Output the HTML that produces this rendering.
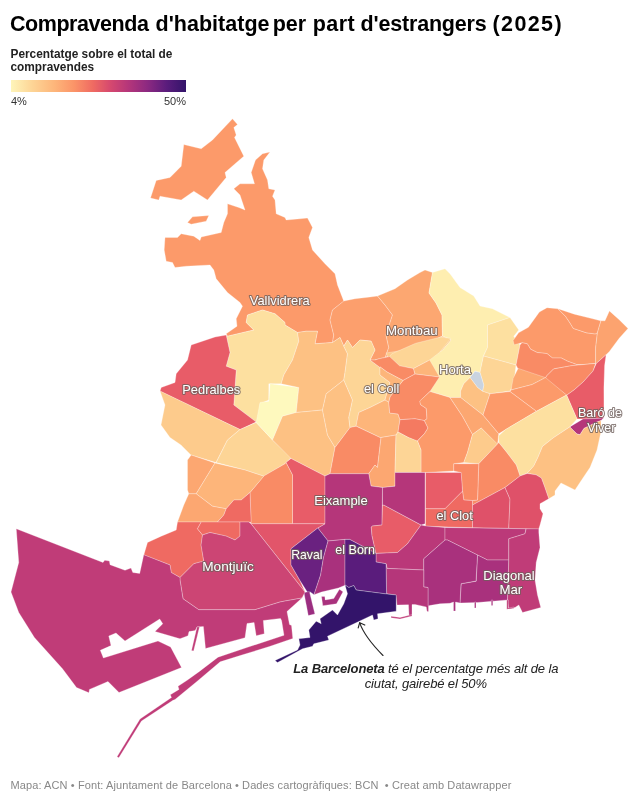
<!DOCTYPE html>
<html lang="ca">
<head>
<meta charset="utf-8">
<title>Compravenda d'habitatge per part d'estrangers (2025)</title>
<style>
html,body{margin:0;padding:0;background:#fff;}
body{width:640px;height:803px;position:relative;overflow:hidden;font-family:"Liberation Sans",sans-serif;color:#181818;}
h1{position:absolute;left:10.5px;top:9.5px;margin:0;font-size:21.5px;line-height:28px;font-weight:bold;color:#000;white-space:nowrap;letter-spacing:0.02px;}
h1 span{position:absolute;top:0;}
.lt{position:absolute;left:10.5px;top:47.5px;font-size:11.85px;line-height:13.8px;font-weight:bold;color:#222;width:190px;}
.bar{position:absolute;left:10.6px;top:79.7px;width:175.4px;height:12.6px;background:linear-gradient(90deg,#FEF5BA 0%,#FDD596 12%,#FDB57A 25%,#FB9468 36%,#EF6A62 47%,#D5486F 57%,#B5367A 67%,#8C2981 78%,#5A1C7C 89%,#33146A 100%);}
.l1,.l2{position:absolute;top:95px;font-size:11px;line-height:13px;color:#333;}
.l1{left:11px;}
.l2{left:136px;width:50px;text-align:right;}
svg{position:absolute;left:0;top:0;}
.foot{position:absolute;left:10.5px;top:779px;font-size:11px;line-height:13px;color:#888;white-space:nowrap;letter-spacing:0.1px;}
.ann{position:absolute;left:275.75px;top:660.5px;width:300px;text-align:center;font-size:13px;line-height:15.7px;letter-spacing:-0.13px;font-style:italic;color:#222;white-space:nowrap;}
.ann b{font-weight:bold;}
.lab{font-family:"Liberation Sans",sans-serif;font-size:13px;fill:#fff;stroke:#6e5f5b;stroke-opacity:0.8;stroke-width:2.1px;stroke-linejoin:round;paint-order:stroke fill;text-anchor:middle;}
</style>
</head>
<body>
<h1><span style="left:-0.5px;letter-spacing:-0.45px">Compravenda</span> <span style="left:145.1px;letter-spacing:0.01px">d'habitatge</span> <span style="left:262.2px;letter-spacing:0px">per</span> <span style="left:302.2px;letter-spacing:0.47px">part</span> <span style="left:350.1px;letter-spacing:-0.19px">d'estrangers</span> <span style="left:482.0px;letter-spacing:1.38px">(2025)</span></h1>
<div class="lt">Percentatge sobre el total de compravendes</div>
<div class="bar"></div>
<div class="l1">4%</div><div class="l2">50%</div>
<svg width="640" height="803" viewBox="0 0 640 803">
<g stroke="#fff" stroke-width="0.55" stroke-linejoin="round" stroke-opacity="0.5">
<path d="M232.5,118.8L237.5,124.5L233.8,127.5L236.2,135L234.5,137.5L243.8,156.2L225,172.5L226.2,177.5L207.5,200L193.8,191.2L181.2,200L160,196.2L158.8,200L150.5,198L156.2,180.5L170,177.5L181.2,166.2L183.8,144.5L201.2,148.8L212.5,140Z" fill="#FC9A6A"/>
<path d="M187.5,222.5L192.5,216.8L208.8,215.5L206.2,221.2L191.2,224.2Z" fill="#FC9A6A"/>
<path d="M166.2,237.5L177.5,237.5L181.2,233.8L193.8,236.2L200,240.5L201.2,237L221.2,232.5L223.8,222.5L227.5,213.8L227.5,203.8L238.8,207.5L245,210L240,195L233.8,188.8L240,183.8L254.5,183.8L251.2,172.5L255.5,160L262.5,153.8L270,152L263.8,160L262.5,168.8L267.5,180L268.8,188.8L275,190L272.5,196.2L275,200L276.2,213.8L285,217.5L286.2,220L300,218.8L307.5,218L312.5,227.5L308.8,237.5L312.5,250L325,263.8L335,273.8L337.5,285L343.8,301.2L332.5,310L330,320L333.75,335L332.5,342.5L315,343.8L317.5,331.2L306.2,331.2L297.5,332.5L285,325L285,322.5L275,313.8L262.5,310L247.5,315L246.2,322.5L253.8,330L227.5,336.2L226.2,333.8L237,326.2L236.2,318.8L242.5,306.2L240,302.5L227.5,292.5L216.2,278.8L213.8,270L210,265L186.2,266.2L175,267.5L172.5,262.5L166.2,261.2L164.2,250L165,237.5Z" fill="#FC9A6A"/>
<path d="M343.75,301L355,298.75L370,297L377.5,296L385,305L392.5,315L390,322.5L386,335L388.75,347.5L385,358L375,360L370,360L375,350L371,341L360,340L352.5,347.5L347.5,340L343.75,346L340,337.5L332.5,342.5L333.75,335L330,320L332.5,310Z" fill="#FC9F6D"/>
<path d="M377.5,296L395,288.75L407.5,280L420,272.5L425,270L432.5,272.5L429,293L436,303L442,315L442.5,336L420,347.5L375,360L385,358L388.75,347.5L386,335L390,322.5L392.5,315L385,305Z" fill="#FCA771"/>
<path d="M247.5,315L262.5,310L275,313.8L285,322.5L285,325L297.5,332.5L298.8,341.2L292.5,360L283.8,375L281.2,383.8L268.8,383.8L268.8,400L260,403.8L259.5,423.8L256.2,422L233.8,405L236.2,370L226.2,366.2L230,352.5L226.2,335L227.5,336.2L253.8,330L246.2,322.5Z" fill="#FDE0A0"/>
<path d="M226.2,335L215,337L191.2,345L187.5,360L176.2,373.8L175,382.5L161.2,387.5L160,391.2L240,429.5L256.2,422L233.8,405L236.2,370L226.2,366.2L230,352.5Z" fill="#E85C68"/>
<path d="M160,391L240,429.5L227.5,440L216,462.5L191,455L181,445L170,437.5L161,425L165,405Z" fill="#FDCB8C"/>
<path d="M240,429.5L256.2,422.5L272.5,440L291.2,457.5L285,463.8L263.8,476.2L245,470L216.2,462.5L227.5,440Z" fill="#FDD596"/>
<path d="M270,383.8L298.8,387.5L296.2,412.5L282.5,416.2L272.5,440L256.2,422.5L260,402.5L268.8,401.2Z" fill="#FEF9BE"/>
<path d="M298.8,341.2L297.5,332.5L306.2,331.2L317.5,331.2L315,343.8L332.5,342.5L340,337.5L343.8,346.2L347.5,353.8L345,372.5L343.8,380L326.2,393.8L322.5,410L296.2,412.5L298.8,387.5L281.2,383.8L283.8,375L292.5,360Z" fill="#FDC183"/>
<path d="M282.5,416.2L296.2,412.5L322.5,410L327.5,435L335,447.5L330,473.75L325,476L291,458.5L272.5,440Z" fill="#FDC183"/>
<path d="M326.2,393.8L343.8,380L352.5,400L348.8,417.5L350,427.5L335,447.5L327.5,435L322.5,410Z" fill="#FDC183"/>
<path d="M343.8,346.2L347.5,340L352.5,347.5L360,340L371.2,341.2L375,350L370,360L380,367.5L380,375L390,382.5L385,400L370,407.5L358.8,412.5L356.2,426.2L350,427.5L348.8,417.5L352.5,400L343.8,380L345,372.5L347.5,353.8Z" fill="#FDD596"/>
<path d="M358.75,412.5L370,407.5L385,400L388.75,402L389.7,413L398,414L400,419.7L398,432L396,435L381,437.5L380,437.5L356,426Z" fill="#FDB57A"/>
<path d="M350,427.5L356.2,426.2L380,437.5L381,437.5L377.5,467.5L375,465L368.75,473.75L330,473.75L335,447.5Z" fill="#F98B65"/>
<path d="M381,437.5L396,435L395,472.5L395,486L383.75,487.5L371,486L368.75,473.75L375,465L377.5,467.5Z" fill="#FCA771"/>
<path d="M432.5,272.5L445,268.75L450,273.75L460,287.5L473.75,296L480,306L492.5,308.75L510,317.5L487.5,325L487.5,347.5L483.5,356L481,367.5L480,372.5L475,371.25L470,377.5L463.75,383.75L460.6,391L460.6,397.5L450,397.5L440,394.4L430,391.6L437.5,377.5L427.5,360L442.5,350L451,340L442.5,336L442,315L436,303L429,293Z" fill="#FEEEB0"/>
<path d="M487.5,325L510,317.5L518.75,330L513.75,336.25L520,345L516,365L483.5,356L487.5,347.5Z" fill="#FDE0A0"/>
<path d="M483.5,356L516,365L513.75,384L510,391L490,393.75L482.5,391.25L483.75,385L480,372.5L481,367.5Z" fill="#FDD596"/>
<path d="M470,377.5L475,371.2L480,372.5L483.8,385L482.5,391.2L477.5,387.5Z" fill="#C9D3E0"/>
<path d="M386,353L420,347.5L442.5,336L451,340L442.5,350L427.5,360L405,367.5L392.5,366Z" fill="#FDCB8C"/>
<path d="M513.1,340.5L518.6,332.8L528.4,327.3L539.4,312L547,307.7L558,308.8L565.6,316.4L570,323L573.3,328.4L586.4,332.8L595.2,333.9L597.4,332.8L595.6,348.1L595.6,363.4L587.5,364.5L576.6,364.5L567.8,361.3L561.3,358L552.5,358L547,353.6L537.2,352.5L530.6,349.2L527.3,343.8L521.9,342.7L514.2,344.8Z" fill="#FC9A6A"/>
<path d="M558,308.8L574.4,314.2L591.9,318.6L600.6,320.8L600.6,321.9L597.4,332.8L595.2,333.9L586.4,332.8L573.3,328.4L570,323L565.6,316.4Z" fill="#FC9A6A"/>
<path d="M600.6,320.8L605,320.8L609.4,310.9L619.2,319.7L628,328.4L619.2,338.3L609.4,351.4L606.1,354.7L596.3,363.4L595.6,363.4L595.6,348.1L597.4,332.8L600.6,321.9Z" fill="#FCA36F"/>
<path d="M521.9,342.7L527.3,343.8L530.6,349.2L537.2,352.5L547,353.6L552.5,358L561.3,358L567.8,361.3L576.6,364.5L587.5,364.5L595.6,363.4L572.2,365.6L553.6,368.9L547,375.5L544.8,378.8L518.6,370L516,365L520,345Z" fill="#F98B65"/>
<path d="M547,375.5L553.6,368.9L572.2,365.6L595.6,363.4L593,371.1L583.1,382L574.4,389.7L566.7,395.2L544.8,378.8Z" fill="#F98B65"/>
<path d="M566.7,395.2L574.4,389.7L583.1,382L593,371.1L596.3,363.4L606.1,354.7L604.6,365.6L603.9,387.5L604,417.5L600,418.3L583,419L577,419Z" fill="#E85C68"/>
<path d="M569.8,426.9L583,419L600,418.3L604,417.5L601,420.6L597,422L584,428.4L580,434.7L576.9,434Z" fill="#B5367A"/>
<path d="M391.7,353.8L415.6,343.3L441,337L450.8,338.4L439.5,352.4L429.7,360L413.5,368.6L399.5,365.8L389.6,356.6Z" fill="#FDD596"/>
<path d="M375,360L379,358.75L389.6,356.6L399.5,365.8L413.5,368.6L415,374L403,380.5L387,372L380.5,367.2L380,367.5L370,360Z" fill="#F98B65"/>
<path d="M413.5,368.6L429.7,360L439.5,377L415,374Z" fill="#FDB57A"/>
<path d="M415,374L439.5,377L430.4,391L420,401L420.6,404.7L426.25,408.4L427,418.75L424.4,420.6L415,418.75L400,419.7L398,414L389.7,413L388.75,402L390,396.7L403,380.5Z" fill="#F98B65"/>
<path d="M380,367.5L380.5,367.2L387,372L403,380.5L390,396.7L388.75,402L385,400L390,382.5L380,375Z" fill="#FDB57A"/>
<path d="M400,419.7L415,418.75L424.4,420.6L428,428L424.4,433.75L417,441.25L408.4,437.5L398,432Z" fill="#F47A61"/>
<path d="M430,391.6L440,394.4L450,397.5L462.5,416.25L472.5,434.4L467.5,452.5L463.75,462.5L453.75,463.75L453.75,471L426,472.5L421,472.5L421,450L417.5,441L424.4,433.75L428,428L424.4,420.6L427,418.75L426.25,408.4L420.6,404.7L419.7,401Z" fill="#FC9A6A"/>
<path d="M396,435L398,432L408.4,437.5L417.5,441L421,450L421,472.5L395,472.5Z" fill="#FDD596"/>
<path d="M460.6,397.5L460.6,391L463.75,383.75L470,377.5L477.5,387.5L482.5,391.25L490,393.75L483,415Z" fill="#FDC183"/>
<path d="M450,397.5L460.6,397.5L483,415L498.75,433.75L497.5,445L481.25,428L472.5,434.4L462.5,416.25Z" fill="#FCA771"/>
<path d="M472.5,434.4L481.25,428L497.5,444L478.75,463.75L463.75,462.5L467.5,452.5Z" fill="#FDCB8C"/>
<path d="M518.1,368.4L545.5,377.6L532,384.6L511,390L513.2,378.3Z" fill="#FCA771"/>
<path d="M545.5,377.6L566.6,395L536.4,411.3L510,391.6L511,390L532,384.6Z" fill="#FC9A6A"/>
<path d="M490,393.75L510,391.6L536.4,411.3L505.5,429.6L498.75,433.75L483,415Z" fill="#FC9A6A"/>
<path d="M566.6,395L577,419L569.8,426.9L553.4,437.8L542.5,446.4L538,457.3L533.75,466L527.2,473.2L520,476L516.25,465L506.4,451.9L498.75,442.5L498.4,436L505.5,429.6L536.4,411.3Z" fill="#FDE0A0"/>
<path d="M542.5,446.4L553.4,437.8L569.8,426.9L576.9,434L580,434.7L584,428.4L597,422L601,420.6L601,431.6L597,450L590,467.5L581.6,480L575,490L561,483L555,491L555,495L548.75,498.75L544.7,487L541.4,478L536,474.8L527.2,473.2L533.75,466L538,457.3Z" fill="#FDC183"/>
<path d="M478.75,463.75L497.5,444L498.75,442.5L506.4,451.9L516.25,465L520,476L505,487.5L472.5,505L472.5,500.5L477.5,500Z" fill="#F98B65"/>
<path d="M453.75,463.75L478.75,463.75L477.5,500L472.5,500.5L463.75,500L462.5,491L461,472.5L453.75,471Z" fill="#F98B65"/>
<path d="M286,462.5L291,458.5L325,476L325,523.75L292.5,523.75L292.5,475Z" fill="#E85C68"/>
<path d="M250,492.5L263.75,476L285,463.75L286,462.5L292.5,475L292.5,523.75L251,523.75Z" fill="#F98B65"/>
<path d="M325,476L330,473.75L368.75,473.75L371,486L382.5,487.5L382,525L372.5,526L371.25,527L372,535.6L376,553.4L349.7,539.4L345,539.4L328,541L317.8,528L325,523.75Z" fill="#B5367A"/>
<path d="M251,523.75L325,523.75L317.8,528L291,548.75L291,565L300,580.6L305,592Z" fill="#E2556A"/>
<path d="M382.5,505.6L383.75,505L421,525L407.5,543.75L397.5,552.5L376,553.4L372,535.6L371.25,527L372.5,526L382,525Z" fill="#E85C68"/>
<path d="M395,472.5L425,472.5L425,523.8L421.2,525L383.8,505L382.5,505L382.5,487.5L395,486.2Z" fill="#B5367A"/>
<path d="M425.5,472.5L461.2,472.5L462.5,491.2L445,508.8L425.5,508.8Z" fill="#E85C68"/>
<path d="M425.5,508.8L445,508.8L462.5,491.2L463.8,500L472.5,500.5L472.5,527.8L425.5,526.2Z" fill="#EF6A62"/>
<path d="M472.5,505L505,487.5L510,499L508.75,528.4L472.5,527.8Z" fill="#DF5169"/>
<path d="M505,487.5L520,476L527.2,473.5L536,474.8L541.4,478L544.7,487L548.75,498.75L540,503.75L540,508.75L543,513.75L540,525L538.75,529L508.75,528.4L510,499Z" fill="#DF5169"/>
<path d="M421,525L426,526L445,527.5L445,540L423.75,558.75L423.75,570L387,568.4L386,563.75L376,562L376,553.4L397.5,552.5L407.5,543.75Z" fill="#BA3879"/>
<path d="M445,527.5L526,528.75L525,533.75L508.75,538.75L508.75,560L487.5,560L477.5,555L447.5,540L445,540Z" fill="#BB3979"/>
<path d="M477.5,555L487.5,560L508.8,560L507.5,600L492.5,601.2L477.5,602.5L460,603L461.2,583.8L476.2,581.2Z" fill="#A9317D"/>
<path d="M445,540L447.5,540L477.5,555L476,581L461,583.75L460,603L455.5,602L455.5,611L453.5,611L453.5,602L450,603.3L440,603.75L429.4,605.6L428.5,606.5L428,605L428,587.5L423.75,587L423.75,558.75Z" fill="#A9317D"/>
<path d="M387,568.4L423.75,570L423.75,587L428,587.5L428,605L428.5,606.5L428.5,611.5L427,611.5L426.25,606.9L415,604.4L412,604.6L412,615.5L409,615.5L408.5,604.8L397,605L396,595L386.6,593.75L386,563.75Z" fill="#B5367A"/>
<path d="M508.8,538.8L525,533.8L526.2,528.8L538.8,528.8L538.8,532.5L540,547.5L536.2,562.5L535,580L537.5,595L540.8,607.5L522.5,612.5L518.8,605L515,607.5L508.8,608.8L507.5,600L508.8,560Z" fill="#C03C78"/>
<path d="M317.8,528L328,541L323.4,558L320.6,575L314,594.7L310.3,592L308.4,593.75L300,580.6L291,565L291,548.75Z" fill="#6A2180"/>
<path d="M303.9,592.6L309.4,591.5L314.9,613.9L308.3,615.6Z" fill="#9B2D80"/>
<path d="M321.5,596.4L322.8,605.7L336.5,603.8L343,591.8L339.4,589.3L333.75,598.6L325.2,599.9L324.8,596.4Z" fill="#A9317D"/>
<path d="M328,541L345,539.4L345,585.3L338.4,588L321.5,592L314,594.7L320.6,575L323.4,558Z" fill="#A9317D"/>
<path d="M345,539.4L349.7,539.4L376,553.4L376,562L386,563.75L386.6,594L385,593.75L356.25,590L353.75,585.5L348.75,587.5L345,585Z" fill="#5A1C7C"/>
<path d="M345,585L348.8,587.5L353.8,585.5L356.2,590L385,593.8L396.2,595L396.2,611.2L377.5,613.8L378,618.8L373.8,620L372.5,615L327.5,636.2L328.8,640L313.8,643.8L312.5,646.2L302.5,648.8L277.5,662.5L275,660.5L297.5,650L300,645L298.8,638.8L310,637.5L308.8,630L316.2,621.2L321.2,623.8L320,618.8L332.5,610L337.5,615L343.8,603.8L347.5,593.8Z" fill="#33146A"/>
<path d="M187.5,460L191.2,455L215,463L196.2,493.8L188.8,493.8L187.5,490Z" fill="#FCA771"/>
<path d="M215,463L245,470L263.8,476.2L250,492.5L241.2,500L233.8,500L226.2,508.8L212.5,506.2L196.2,493.8Z" fill="#FDB57A"/>
<path d="M188.8,493.8L196.2,493.8L212.5,506.2L226.2,508.8L223.8,515L217.5,522L177.5,522L183.8,505Z" fill="#FCA771"/>
<path d="M226.2,508.8L233.8,500L241.2,500L250,492.5L251.2,522.5L248.8,522L217.5,522L223.8,515Z" fill="#EF6A62"/>
<path d="M177.5,522L201.2,522L197.5,528.8L202.5,535L201.2,545L203.8,561.2L193.8,563.8L180,577.5L171.2,572.5L170,565L143.8,555L147.5,542.5L161.2,536.2L176.2,530Z" fill="#EF6A62"/>
<path d="M201.2,522L240,522L240,536.2L235,540L226.2,536.2L210,532.5L202.5,535L197.5,528.8Z" fill="#EF6A62"/>
<path d="M202.5,535L210,532.5L226,536L235,540L240,536L240,522L248.75,522L251,523.75L305,592L302,598L285,601L280,602L255,609.7L198.75,609.7L183,598.75L180,580L180,577.5L193.75,563.75L203.75,561L201,545Z" fill="#CC4574"/>
<path d="M16.25,528.75L103,562.5L104.7,560.3L109.4,561L110,564.7L125,570.3L131,568L132.8,572.5L139.7,573.4L143.75,554.7L170,565L171.3,572.5L180,577.5L180,580L183,598.75L198.75,609.7L255,609.7L280,602L285,601L302,598L287,611.5L289.5,624.5L291.5,625.5L292.8,638.5L269.4,646.5L241,655.3L220.2,661.8L197.2,681.25L175,699.5L173,700.3L141.5,721L118.8,757.8L117,756.8L140,719L171.5,697.5L170.3,694.8L179,689.4L178,686.25L187.5,680L199.4,671.4L218,657.2L247.5,647.3L284,635.3L281.6,620.5L280.5,618.4L263.3,620.5L264.3,633.7L256.2,635.7L254.1,622.5L247,623.5L245,637.7L205.5,648.5L203.4,626.6L197,626.9L195.2,630.6L189,631.6L188,635.7L180,638.75L155,631.5L162.8,623.75L159.7,619L125,641L116,633L108.75,636L111,645.6L100.3,650.3L103.4,658L158,641L170.6,647L181.5,667.5L119,692.5L108,681.5L89.4,689.4L89,692.8L76.5,687.5L62.5,668.75L34.4,637.5L18.75,612.5L11,592L18.75,562.5Z" fill="#C03C78"/>
<path d="M197,626.9L199.5,626.9L193.6,651L191.5,650.5Z" fill="#C03C78"/>
<path d="M391,616.2L400,617.4L412,614.5L412,616L400,619L391,617.8Z" fill="#C03C78"/>
<path d="M474.5,602L476,602L476,608L474.5,608Z" fill="#A9317D"/>
<path d="M491.3,600L492.8,600L492.8,605.6L491.3,605.6Z" fill="#A9317D"/>
<path d="M506.8,600L508.5,600L508.5,608L514,607L514,608.3L506.8,609.3Z" fill="#C03C78"/>
</g>
<g fill="none" stroke="#262626" stroke-width="1.15" stroke-linecap="round" stroke-linejoin="round">
<path d="M383,655.5 Q364.6,636.9 359.7,622.9"/>
<path d="M358.2,627.9 L359.7,622.7 L364.8,625.1"/>
</g>
<g>
<text class="lab" x="279.75" y="305.00" textLength="60.0" lengthAdjust="spacingAndGlyphs">Vallvidrera</text>
<text class="lab" x="411.88" y="335.00" textLength="51.7" lengthAdjust="spacingAndGlyphs">Montbau</text>
<text class="lab" x="455.00" y="373.75" textLength="32.0" lengthAdjust="spacingAndGlyphs">Horta</text>
<text class="lab" x="381.62" y="393.00" textLength="35.2" lengthAdjust="spacingAndGlyphs">el Coll</text>
<text class="lab" x="211.25" y="393.75" textLength="58.0" lengthAdjust="spacingAndGlyphs">Pedralbes</text>
<text class="lab" x="599.95" y="417.20" textLength="44.0" lengthAdjust="spacingAndGlyphs">Baró de</text>
<text class="lab" x="601.30" y="431.60" textLength="28.1" lengthAdjust="spacingAndGlyphs">Viver</text>
<text class="lab" x="341.00" y="504.50" textLength="53.5" lengthAdjust="spacingAndGlyphs">Eixample</text>
<text class="lab" x="454.62" y="519.50" textLength="36.2" lengthAdjust="spacingAndGlyphs">el Clot</text>
<text class="lab" x="306.85" y="559.00" textLength="31.2" lengthAdjust="spacingAndGlyphs">Raval</text>
<text class="lab" x="355.15" y="553.75" textLength="39.8" lengthAdjust="spacingAndGlyphs">el Born</text>
<text class="lab" x="228.00" y="571.00" textLength="51.5" lengthAdjust="spacingAndGlyphs">Montjuïc</text>
<text class="lab" x="509.00" y="579.50" textLength="51.5" lengthAdjust="spacingAndGlyphs">Diagonal</text>
<text class="lab" x="510.88" y="593.75" textLength="22.8" lengthAdjust="spacingAndGlyphs">Mar</text>
</g>
</svg>
<div class="ann"><b>La Barceloneta</b> té el percentatge més alt de la<br>ciutat, gairebé el 50%</div>
<div class="foot">Mapa: ACN • Font: Ajuntament de Barcelona • Dades cartogràfiques: BCN&nbsp; • Creat amb Datawrapper</div>
</body>
</html>
